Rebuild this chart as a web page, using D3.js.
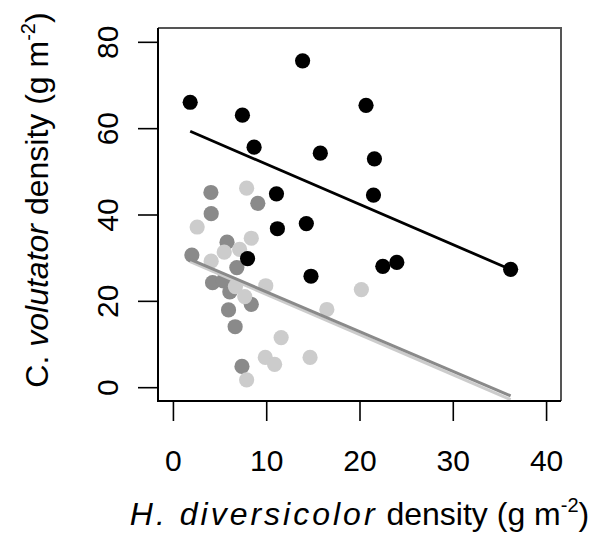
<!DOCTYPE html>
<html>
<head>
<meta charset="utf-8">
<script src="https://cdn.jsdelivr.net/npm/d3@7"></script>
<style>
  body { margin: 0; background: #fff; }
  svg { display: block; font-family: "Liberation Sans", Arial, sans-serif; }
</style>
</head>
<body>
<div class="chart"></div>
<script>
// group 1 (black)
var blackX = [1.85, 7.45, 13.9, 8.7, 15.8, 20.7, 21.6, 21.5, 11.1, 11.2, 14.3, 8.0, 14.8, 22.5, 24.0, 36.2];
var blackY = [66.0, 63.0, 75.6, 55.6, 54.2, 65.3, 52.9, 44.5, 44.8, 36.7, 37.9, 29.8, 25.7, 28.0, 28.9, 27.3];
// group 2 (dark grey)
var darkX = [4.07, 4.1, 9.1, 5.8, 2.03, 6.85, 4.25, 5.4, 6.1, 8.4, 5.96, 6.67, 7.4];
var darkY = [45.1, 40.2, 42.6, 33.6, 30.6, 27.7, 24.2, 24.6, 22.1, 19.2, 17.9, 14.0, 4.8];
// group 3 (light grey)
var lightX = [7.9, 2.6, 8.4, 5.5, 7.15, 4.1, 9.95, 6.7, 7.7, 20.2, 16.5, 11.6, 9.9, 10.9, 14.7, 7.9];
var lightY = [46.1, 37.1, 34.5, 31.3, 31.9, 29.2, 23.5, 23.3, 21.0, 22.6, 18.0, 11.5, 6.9, 5.3, 6.9, 1.7];
// fitted lines: intercept, slope
var fitBlack = [61.0, -0.932];
var fitDark = [31.3, -0.92];
var fitLight = [30.8, -0.93];

var xTicks = [0, 10, 20, 30, 40];
var yTicks = [0, 20, 40, 60, 80];

var width = 590, height = 538;
var box = { left: 158, right: 561, top: 28, bottom: 401 };

var svg = d3.select(".chart").append("svg")
    .attr("width", width)
    .attr("height", height);

// R style: limits 0-40 / 0-80 with 4% padding
var x = d3.scaleLinear().domain([-1.6, 41.6]).range([box.left, box.right]);
var y = d3.scaleLinear().domain([-3.2, 83.2]).range([box.bottom, box.top]);

var xAxis = d3.axisBottom(x).tickValues(xTicks).tickSize(20).tickPadding(29);
var yAxis = d3.axisLeft(y).tickValues(yTicks).tickSize(20).tickPadding(0);

svg.append("g")
    .attr("transform", "translate(0," + box.bottom + ")")
    .call(xAxis)
    .call(function (g) { g.select(".domain").remove(); })
    .call(function (g) {
        g.selectAll("line").attr("stroke", "#000").attr("stroke-width", 1.6);
        g.selectAll("text").attr("fill", "#000").style("font-size", "30px")
            .style("font-family", "Liberation Sans, Arial, sans-serif");
    });

var ya = svg.append("g")
    .attr("transform", "translate(" + box.left + ",0)")
    .call(yAxis)
    .call(function (g) { g.select(".domain").remove(); });
ya.selectAll("line").attr("stroke", "#000").attr("stroke-width", 1.6);
ya.selectAll("text")
    .attr("fill", "#000")
    .style("font-size", "30px")
    .style("font-family", "Liberation Sans, Arial, sans-serif")
    .attr("x", null).attr("dy", null)
    .attr("text-anchor", "middle")
    .attr("transform", "translate(-40,0) rotate(-90)");

// points
function drawPoints(xs, ys, col) {
    svg.append("g").selectAll("circle")
        .data(xs.map(function (d, i) { return [d, ys[i]]; }))
        .enter().append("circle")
        .attr("cx", function (d) { return x(d[0]); })
        .attr("cy", function (d) { return y(d[1]); })
        .attr("r", 7.6)
        .attr("fill", col);
}
drawPoints(darkX, darkY, "#8a8a8a");
drawPoints(lightX, lightY, "#cccccc");
drawPoints(blackX, blackY, "#000000");

// regression lines across the range of all x values
var allX = blackX.concat(darkX, lightX);
var ext = d3.extent(allX);
var line = d3.line().x(function (d) { return x(d); });
function drawFit(fit, col, w) {
    svg.append("path")
        .datum(ext)
        .attr("fill", "none")
        .attr("stroke", col)
        .attr("stroke-width", w)
        .attr("d", line.y(function (d) { return y(fit[0] + fit[1] * d); }));
}
drawFit(fitLight, "#cccccc", 3);
drawFit(fitDark, "#8a8a8a", 3);
drawFit(fitBlack, "#000000", 2.8);

// box
svg.append("path")
    .attr("d", "M" + box.left + "," + box.top + "H" + box.right + "V" + box.bottom)
    .attr("fill", "none").attr("stroke", "#555").attr("stroke-width", 2);
svg.append("path")
    .attr("d", "M" + box.left + "," + box.top + "V" + box.bottom + "H" + box.right)
    .attr("fill", "none").attr("stroke", "#000").attr("stroke-width", 2);

// axis titles
var xt = svg.append("text")
    .attr("x", (box.left + box.right) / 2)
    .attr("y", 525)
    .attr("text-anchor", "middle")
    .style("font-size", "32px");
xt.append("tspan").style("font-style", "italic").style("letter-spacing", "3px").text("H. diversicolor");
xt.append("tspan").text(" density (g m");
xt.append("tspan").attr("dy", -13).style("font-size", "20px").text("-2");
xt.append("tspan").attr("dy", 13).text(")");

var yt = svg.append("text")
    .attr("transform", "translate(48,200) rotate(-90)")
    .attr("text-anchor", "middle")
    .style("font-size", "32px");
yt.append("tspan").text("C. ");
yt.append("tspan").style("font-style", "italic").text("volutator");
yt.append("tspan").text(" density (g m");
yt.append("tspan").attr("dy", -13).style("font-size", "20px").text("-2");
yt.append("tspan").attr("dy", 13).text(")");
</script>
</body>
</html>
